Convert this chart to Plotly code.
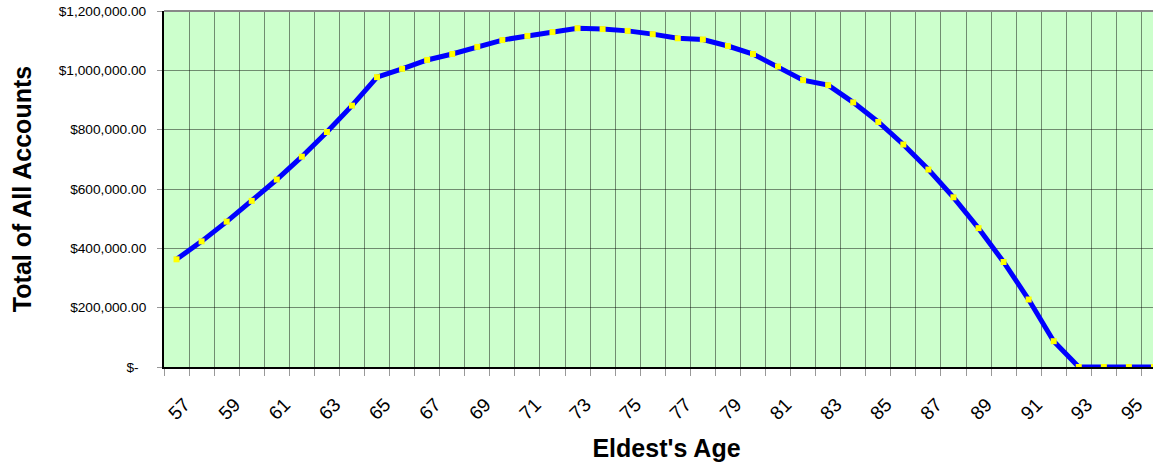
import plotly.graph_objects as go

ages = list(range(57, 97))
totals = [363000, 423500, 490000, 560000, 632000, 709000, 792000, 881000, 977000, 1005000,
          1035000, 1055000, 1079000, 1102000, 1116000, 1129000, 1142000, 1139000, 1133000, 1122000,
          1108000, 1104000, 1082000, 1055000, 1013000, 967000, 950000, 892000, 826000, 750000,
          665500, 572000, 468000, 354000, 227500, 87000, 0, 0, 0, 0]

x_tick_vals = list(range(57, 97, 2))
x_tick_text = [str(v) for v in x_tick_vals]
y_tick_vals = [0, 200000, 400000, 600000, 800000, 1000000, 1200000]
y_tick_text = ["$-\u00a0\u00a0", "$200,000.00", "$400,000.00", "$600,000.00",
               "$800,000.00", "$1,000,000.00", "$1,200,000.00"]
boundaries = [a - 0.5 for a in ages] + [ages[-1] + 0.5]

fig = go.Figure()
fig.add_trace(go.Scatter(
    x=ages, y=totals, mode="lines+markers",
    line=dict(color="#0000FF", width=5),
    marker=dict(symbol="square", size=6, color="#FFFF00", line=dict(width=0)),
    hoverinfo="skip", showlegend=False,
))

font_family = "Liberation Sans, Arial, sans-serif"

fig.update_layout(
    width=1161, height=466,
    margin=dict(l=156, r=0, t=11, b=99),
    paper_bgcolor="white", plot_bgcolor="#CCFFCC",
    font=dict(family=font_family, color="black"),
    xaxis=dict(
        range=[56.5, 96.6], automargin=False,
        tickmode="array", tickvals=x_tick_vals, ticktext=x_tick_text,
        tickangle=-45, tickfont=dict(size=19),
        ticklabelstandoff=17, ticklabelshift=8,
        showgrid=False, ticks="", zeroline=False,
        showline=True, linecolor="black", linewidth=2,
        minor=dict(tickmode="array", tickvals=boundaries, showgrid=True,
                   gridcolor="rgba(0,0,0,0.45)", gridwidth=1,
                   ticks="outside", ticklen=7, tickcolor="#999999", tickwidth=1),
        title=dict(text="<b>Eldest's Age</b>", font=dict(size=25), standoff=17),
    ),
    yaxis=dict(
        range=[0, 1200000], automargin=False,
        tickmode="array", tickvals=y_tick_vals, ticktext=y_tick_text,
        tickfont=dict(size=13.7),
        showgrid=True, gridcolor="rgba(0,0,0,0.45)", gridwidth=1,
        zeroline=False,
        showline=True, linecolor="black", linewidth=2,
        ticks="outside", ticklen=5, tickcolor="#999999", tickwidth=1,
        ticklabelstandoff=8,
        title=dict(text="<b>Total of All Accounts</b>", font=dict(size=25), standoff=32),
    ),
    shapes=[dict(type="line", xref="paper", yref="paper", x0=0, x1=1, y0=1, y1=1,
                 line=dict(color="#888888", width=2), layer="above")],
)

fig.write_html("out.html", post_script="document.body.style.marginTop='0px';")
